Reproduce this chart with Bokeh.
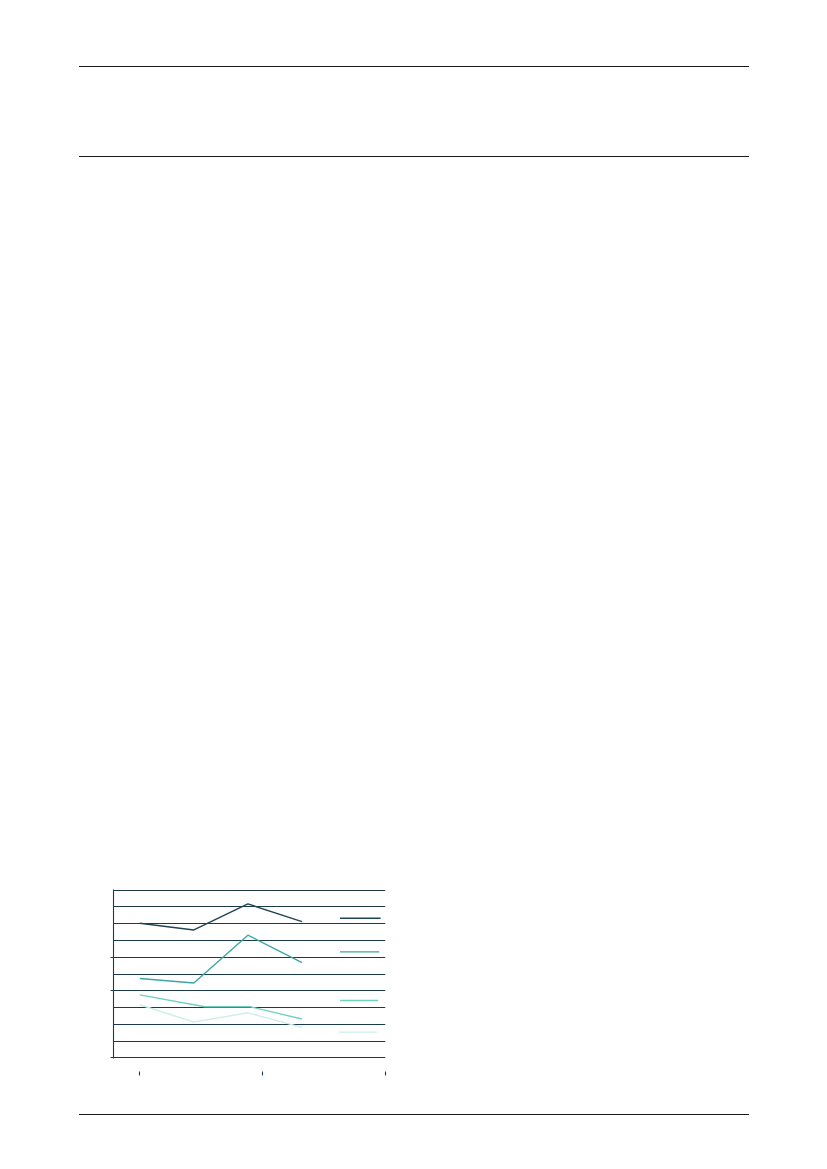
from bokeh.plotting import figure
from bokeh.models import Range1d, FixedTicker, Div
from bokeh.layouts import column
from bokeh.embed import file_html
from bokeh.resources import INLINE

# ---- data ----
periods = [0.0, 0.44, 0.88, 1.32]
series_a = [8.02, 7.62, 9.17, 8.12]
series_b = [4.73, 4.46, 7.31, 5.68]
periods_c = [0.0, 0.53, 0.90, 1.32]
series_c = [3.76, 3.05, 3.05, 2.32]
series_d = [3.17, 2.14, 2.69, 1.82]
x_ticks = [0, 1, 2]
y_grid_ticks = list(range(0, 11))
y_major_ticks = [0, 4, 6]

# legend key samples (labels not shown in reference)
legend_x = [(1.63, 1.96), (1.63, 1.95), (1.63, 1.94), (1.62, 1.93)]
legend_y = [8.32, 6.32, 3.42, 1.54]

colors = ["#1f4553", "#3ba7a2", "#6fd0c2", "#cdeee9"]
grid_color = "#1b3b4a"
rule_color = "#1a1a1a"

PAGE_W = 811
TOP_H = 160          # header block with two rules
FL, FW = 113, 272
FT_PAGE, FH = 889.5, 169
FIG_H = 940
BOT_H = 40

rule = ('<div style="margin-left:78.5px;width:670px;height:1.3px;'
        'background:%s"></div>' % rule_color)
top_div = Div(width=PAGE_W, height=TOP_H, margin=0,
              text='<div style="height:65.8px"></div>' + rule +
                   '<div style="height:88.7px"></div>' + rule)

p = figure(width=PAGE_W, height=FIG_H, output_backend="svg", toolbar_location=None,
           x_range=Range1d(-0.214, 2.0), y_range=Range1d(-0.03, 10.03),
           min_border_left=FL, min_border_top=int(FT_PAGE - TOP_H),
           min_border_right=PAGE_W - FL - FW,
           min_border_bottom=FIG_H - int(FT_PAGE - TOP_H) - FH,
           frame_width=FW, frame_height=FH)
p.outline_line_color = None
p.background_fill_color = None
p.border_fill_color = None

# grid
p.xgrid.visible = False
p.ygrid.ticker = FixedTicker(ticks=y_grid_ticks)
p.ygrid.grid_line_color = grid_color
p.ygrid.grid_line_width = 1.1

# y axis
p.yaxis.ticker = FixedTicker(ticks=y_major_ticks)
p.yaxis.axis_line_color = grid_color
p.yaxis.axis_line_width = 1.1
p.yaxis.major_tick_line_color = grid_color
p.yaxis.major_tick_in = 0
p.yaxis.major_tick_out = 3
p.yaxis.minor_tick_line_color = None
p.yaxis.major_label_text_color = None

# x axis (ticks detached below frame)
p.xaxis.ticker = FixedTicker(ticks=x_ticks)
p.xaxis.axis_line_color = None
p.xaxis.major_tick_line_color = grid_color
p.xaxis.major_tick_line_width = 1.1
p.xaxis.major_tick_in = -13
p.xaxis.major_tick_out = 17
p.xaxis.minor_tick_line_color = None
p.xaxis.major_label_text_color = None

# series
p.line(periods, series_a, line_color=colors[0], line_width=1.4)
p.line(periods, series_b, line_color=colors[1], line_width=1.4)
p.line(periods_c, series_c, line_color=colors[2], line_width=1.4)
p.line(periods, series_d, line_color=colors[3], line_width=1.4)

# legend keys
for (x0, x1), yy, c in zip(legend_x, legend_y, colors):
    p.line([x0, x1], [yy, yy], line_color=c, line_width=1.4)

# bottom rule at page y ~1114
fig_bottom = TOP_H + FIG_H
bot_div = Div(width=PAGE_W, height=BOT_H, margin=0,
              text='<div style="height:%.1fpx"></div>' % (1113.5 - fig_bottom) + rule)

layout = column(top_div, p, bot_div, spacing=0)
open("out.html", "w").write(file_html(layout, INLINE))
